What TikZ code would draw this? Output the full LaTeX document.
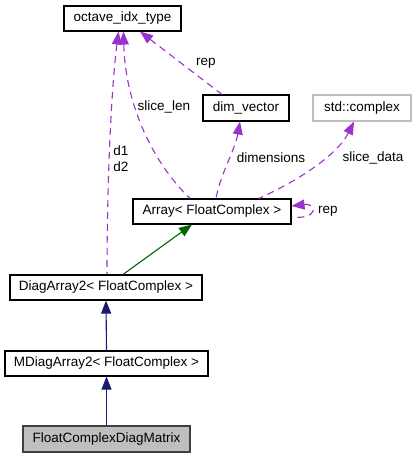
\documentclass[tikz,border=0pt]{standalone}
\usepackage{fontspec}
\setmainfont{Liberation Sans}
\usetikzlibrary{arrows.meta}
\definecolor{useclr}{HTML}{9A32CD}
\definecolor{inhclr}{HTML}{191970}
\definecolor{tplclr}{HTML}{006400}
\definecolor{grayclr}{HTML}{BFBFBF}
\begin{document}
\begin{tikzpicture}[x=1pt,y=-1pt,
  >={Triangle[length=13pt,width=10pt]},
  cls/.style={draw=black,line width=1.1pt,fill=white,minimum height=25pt,inner sep=0pt,
    font=\fontsize{13.5}{16}\selectfont},
  lbl/.style={font=\fontsize{13.5}{16}\selectfont,inner sep=0pt,align=center},
  uses/.style={<-,useclr,line width=1.1pt,dash pattern=on 7pt off 5pt},
  inh/.style={<-,inhclr,line width=1.1pt},
  tpl/.style={<-,tplclr,line width=1.1pt}]
\useasboundingbox (0,0) rectangle (417,459);
\node[cls,minimum width=117pt] (oit) at (122.5,18.5) {octave\_idx\_type};
\node[cls,minimum width=86pt,minimum height=26pt] (dv) at (246,108) {dim\_vector};
\node[cls,draw=grayclr,minimum width=98pt,minimum height=26pt] (sc) at (362,108) {std::complex};
\node[cls,minimum width=158pt] (arr) at (212,211.5) {Array< FloatComplex >};
\node[cls,minimum width=192pt] (da2) at (106,287.5) {DiagArray2< FloatComplex >};
\node[cls,minimum width=203pt] (mda2) at (106.5,363.5) {MDiagArray2< FloatComplex >};
\node[cls,fill=grayclr,draw=black!75,minimum width=167pt,minimum height=26pt] (fcdm) at (106.5,439) {FloatComplexDiagMatrix};
\draw[uses] ([xshift=-4pt]oit.south) .. controls (110,100) and (107,200) .. ([xshift=1pt]da2.north);
\draw[uses] ([xshift=1pt]oit.south) .. controls (125,100) and (150,160) .. ([xshift=-22pt]arr.north);
\draw[uses] ([xshift=17.5pt]oit.south) -- ([xshift=-24pt]dv.north);
\draw[uses] ([xshift=-6pt]dv.south) .. controls (235,150) and (220,175) .. ([xshift=4pt]arr.north);
\draw[uses] ([xshift=-8pt]sc.south) .. controls (340,150) and (310,175) .. ([xshift=47pt]arr.north);
\draw[uses] ([yshift=5.5pt]arr.east) .. controls (318,203) and (318,220) .. ([yshift=-5.5pt]arr.east);
\draw[tpl] ([xshift=-20pt]arr.south) -- ([xshift=17pt]da2.north);
\draw[inh] (da2.south) -- (mda2.north);
\draw[inh] (mda2.south) -- (fcdm.north);
\node[lbl] (l1) at (121,159) {d1\\d2};
\node[lbl] (l2) at (164,107) {slice\_len};
\node[lbl] (l3) at (206,63) {rep};
\node[lbl] (l4) at (271,158) {dimensions};
\node[lbl] (l5) at (373,158) {slice\_data};
\node[lbl] (l6) at (328,211) {rep};
\end{tikzpicture}
\end{document}
